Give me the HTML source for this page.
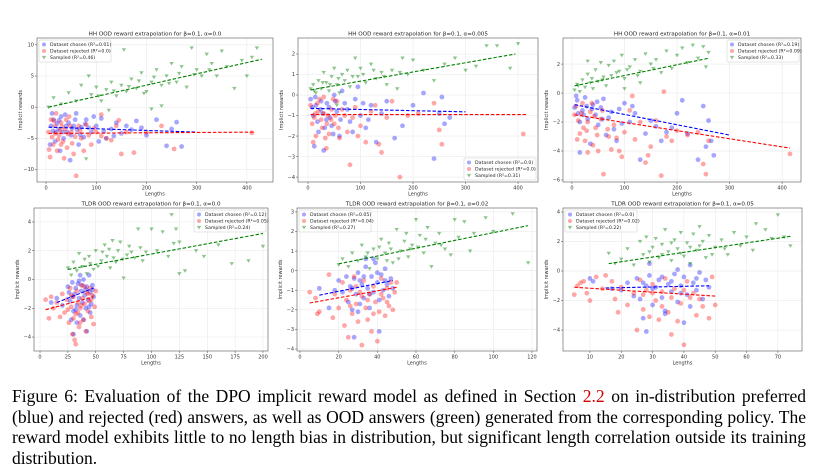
<!DOCTYPE html>
<html><head><meta charset="utf-8">
<style>
html,body{margin:0;padding:0;background:#fff;width:819px;height:476px;overflow:hidden}
#fig{position:absolute;left:0;top:0}
#caption{position:absolute;left:12px;top:386px;width:794px;font-family:"Liberation Serif",serif;font-size:17.5px;line-height:20.5px;color:#000;margin:0}
#caption .ln{display:block;text-align:justify;text-align-last:justify;white-space:nowrap}
#caption .last{text-align-last:left}
#caption .ref{color:#c00}
</style></head>
<body>
<svg id="fig" width="819" height="380" xmlns="http://www.w3.org/2000/svg" font-family="DejaVu Sans, Liberation Sans, sans-serif"></svg>
<p id="caption"><span class="ln">Figure 6: Evaluation of the DPO implicit reward model as defined in Section <span class="ref">2.2</span> on in-distribution preferred</span><span class="ln">(blue) and rejected (red) answers, as well as OOD answers (green) generated from the corresponding policy. The</span><span class="ln">reward model exhibits little to no length bias in distribution, but significant length correlation outside its training</span><span class="ln last">distribution.</span></p>
<script>
// ---- data (hand-estimated from reference) ----
const titles = ["HH OOD reward extrapolation for β=0.1, α=0.0","HH OOD reward extrapolation for β=0.1, α=0.005","HH OOD reward extrapolation for β=0.1, α=0.01","TLDR OOD reward extrapolation for β=0.1, α=0.0","TLDR OOD reward extrapolation for β=0.1, α=0.02","TLDR OOD reward extrapolation for β=0.1, α=0.05"];
const legendChosen = ["Dataset chosen (R²=0.01)","Dataset chosen (R²=0.0)","Dataset chosen (R²=0.19)","Dataset chosen (R²=0.12)","Dataset chosen (R²=0.05)","Dataset chosen (R²=0.0)"];
const legendRejected = ["Dataset rejected (R²=0.0)","Dataset rejected (R²=0.0)","Dataset rejected (R²=0.09)","Dataset rejected (R²=0.05)","Dataset rejected (R²=0.04)","Dataset rejected (R²=0.02)"];
const legendSampled = ["Sampled (R²=0.46)","Sampled (R²=0.31)","Sampled (R²=0.33)","Sampled (R²=0.24)","Sampled (R²=0.27)","Sampled (R²=0.22)"];
const xTicks = [[0,100,200,300,400],[0,100,200,300,400],[0,100,200,300,400],[0,25,50,75,100,125,150,175,200],[0,20,40,60,80,100,120],[10,20,30,40,50,60,70]];
const yTicks = [[-10,-5,0,5,10],[-4,-3,-2,-1,0,1,2],[-6,-4,-2,0,2],[-4,-2,0,2,4],[-4,-3,-2,-1,0,1,2,3],[-4,-2,0,2,4]];
const chosen = [
[10,-3,15,-2,20,-4,25,-3.5,30,-1.5,35,-5,40,-3,45,-2.5,50,-4.5,55,-3,60,-1,65,-6,70,-3.2,80,-2,90,-4,100,-3,110,-1.8,120,-5,130,-3.5,140,-2.5,150,-4.2,160,-3,180,-2.2,200,-4.5,220,-2,240,-6.2,250,-3.5,260,-2.4,270,-6.3,8,-6,12,-1,18,-5.5,28,-7,42,-4,58,-2,75,-4.8,95,-1.5,48,-8.5,105,-5.5,22,-2.6,33,-4,62,-3.6,85,-3.3,14,-3.8,26,-2.1,38,-1.2,52,-3.4,68,-4.4,78,-2.7,115,-3.9,135,-4.6,170,-3.6,190,-3.3],
[5,-0.2,10,-1,15,-0.5,20,-1.8,25,-0.3,30,-2.7,35,-1.2,40,-0.6,45,-1.5,50,0,55,-0.8,60,-2,70,-0.4,80,-1.3,90,-0.2,100,-1,110,-1.6,120,-0.5,130,-2.3,140,-0.9,150,-0.3,165,-2.1,180,-1.5,200,-0.5,220,0.1,240,-3.1,250,-0.9,255,-0.1,260,-1.4,270,-1.1,12,-2.5,28,-0.9,48,-1.9,65,0.2,95,0.4,18,-1.3,8,-0.6,24,-0.7,36,-0.4,14,-0.1,32,-1.6,42,-1.1,52,-0.3,62,-1.2,75,-0.7,85,-1.8,105,-0.4,115,-1.2],
[5,-1,10,-0.5,15,-2,20,-1.2,25,-0.3,30,-1.8,35,-3.5,40,-0.8,45,-1.5,50,-2.2,55,-1,60,-0.4,70,-1.7,80,-2.5,90,-1.1,100,-0.7,110,-2,120,-1.4,130,-4.6,140,-2.8,150,-1.9,160,-2.3,170,-3.3,180,-2.7,190,-2.4,200,-1.4,210,-0.5,220,-2.8,240,-4.6,250,-0.9,255,-3.7,260,-1.9,265,-3.3,270,-4.3,15,-4.1,65,-2.9,85,-3.3,8,-0.2,22,-1.5,38,-1.1,12,-1.4,28,-0.9,48,-0.6,58,-1.8,75,-1.3,95,-2.1,115,-0.9],
[25,-0.5,27,-1.5,29,-0.2,30,-2.2,31,-1,32,-0.6,33,-1.8,34,-0.3,35,-1.3,36,-2.5,37,-0.8,38,-1.6,39,0,40,-1.1,41,-2,42,-0.5,43,-1.4,44,0.3,45,-0.9,46,-1.7,47,-0.4,48,-1.2,30,-3.8,42,-3.6,10,-1.6,15,-1.3,20,-1.8,28,-2.8,36,0.3,45,-2.3,33,-3,39,-2.8,26,-0.9,47,-0.7,29,-1.2,35,-0.1,41,-0.7,44,-1.9,38,-0.4,32,-2.1],
[10,-0.9,15,-1.9,20,-0.5,22,-1.1,24,-0.3,25,-1.6,26,-0.8,27,-2,28,-0.4,29,-1.2,30,-0.1,31,-1.7,32,-0.7,33,-1.4,34,0.2,35,-0.9,36,-1.9,37,-0.3,38,-1.1,39,0.4,40,-0.6,41,-1.5,42,-0.2,43,-1,44,0.1,45,-0.7,46,-1.3,47,-0.4,48,-0.9,41,-3.1,28,-3.4,18,-1,34,0.6,38,0.6,30,-2.1,27,-0.9,33,-0.3,36,-1.2,40,-0.1,44,-0.5,31,-0.5],
[10,-0.5,11,-0.7,17,-1.2,20,-1.3,22,-0.8,24,-1.7,25,-0.5,26,-1.9,27,-3.2,28,-4.1,28,-1,29,-0.3,30,-2.3,31,-1.1,32,-0.6,33,-1.8,34,-2.7,35,-0.9,36,-1.4,37,-0.2,38,-2.1,39,-1,40,-3.5,40,-0.4,41,-1.6,42,-2.4,43,-0.8,44,-1.3,45,-0.1,46,-1.9,47,-0.6,48,-1.1,38,0.1,42,0.4,29,0.5,34,-2.9,30,-1.2,33,-0.4,36,-0.7,39,-1.5,44,-0.5,27,-0.8]
];
const rejected = [
[5,-4,8,-8,10,-2,14,-6,18,-3,22,-7,26,-4.5,30,-2.5,34,-5.5,38,-3.5,42,-6.5,46,-1.5,50,-4,55,-7.5,60,-11,65,-3,70,-5,80,-2.8,90,-6,100,-4,110,-1.2,120,-5,140,-3,150,-7.5,160,-4,175,-7.3,200,-4,230,-3,255,-6.7,410,-4.1,12,-4.8,20,-1,36,-8.2,52,-5.8,75,-7,85,-4.5,130,-5.3,145,-2.1,28,-3.7,44,-4.3,16,-2.2,24,-5.2,32,-3.1,6,-6.8,18,-4.2,30,-6,40,-2,48,-3,58,-4.7,68,-3.8,95,-3.4,110,-4.6],
[5,-0.5,10,-2.3,15,-2,20,-0.8,25,-1.2,30,-0.1,35,-2.6,40,-1.9,45,-0.7,50,-1.4,55,-0.3,60,-2.1,70,-1,80,-3.4,90,-0.6,100,-1.5,110,-2.3,120,-0.8,135,-2.4,140,-2.8,150,-1.1,160,-0.3,175,-4,190,-1,210,-0.9,240,-0.4,250,-1.7,255,-2.4,410,-1.9,8,-1.4,22,-0.2,38,-1,58,-1.6,75,-1.8,128,-0.5,33,-2.1,14,-0.9,27,-1.6,44,-1.2,12,-1.1,18,-0.4,30,-0.9,36,-1.4,48,-0.2,52,-1,65,-0.7,85,-1.1,95,-2],
[5,-1.5,10,-3.2,15,-2.8,20,-0.7,25,-3.3,30,-2,35,-1.3,40,-3.6,45,-2.4,50,-4,55,-1.8,60,-5.6,70,-3,80,-2.2,90,-4,100,-2.7,110,-1.2,120,-3.2,130,-2,140,-4.8,150,-3.7,160,-1.9,170,-5.7,180,-3,190,-3.3,200,-2.6,220,-2.9,240,-2.7,250,-4.9,255,-5.6,260,-3.3,415,-4.2,30,-4.1,75,-3.9,95,-4.4,145,-4.3,175,0.1,115,-0.2,12,-1.9,22,-2.4,42,-1.6,8,-0.9,18,-1.4,28,-2.6,38,-0.7,48,-2.9,58,-1.2,68,-2.5,85,-3.1],
[5,-1.4,8,-2.7,10,-1.2,12,-2,15,-1.6,18,-2.6,20,-1,22,-2.3,24,-1.4,26,-3,27,-0.6,28,-1.9,29,-3.8,30,-1.2,31,-4.2,32,-2.4,33,-0.8,34,-1.6,35,-3.3,36,-2,37,-0.4,38,-1.3,39,-2.8,40,-1.7,41,-3.6,42,-0.9,43,-2.2,44,-1.5,45,-0.6,46,-2.6,47,-1.1,48,-3.1,49,-1.9,50,-0.8,32,-4.5,25,-2.1,28,-1.1,30,-2.7,34,-2.3,37,-1.8,40,-0.5,43,-1,46,-1.4,36,-3],
[5,-1.1,8,-1.4,9,-2.2,10,-2.1,15,-0.2,17,-2.4,18,-1.2,20,-1.9,22,-0.6,23,-2.8,24,-1.5,25,-3.4,26,-1,27,-2.2,28,-0.3,29,-1.7,30,-2.6,31,-1.1,32,-3.8,33,-0.5,34,-1.9,35,-2.5,36,-1.2,37,-3.1,38,-0.8,39,-1.6,40,-3.6,41,-2.1,42,-0.4,43,-1.4,44,-2.3,45,-0.9,46,-1.8,47,-0.6,48,-2,49,-1.1,50,-0.6,32,-1.3,26,-1.8,29,-0.8,35,-1.5,38,-2.2,42,-1.2,45,-1.6],
[5,-1.6,6,-1,7,-0.8,8,-0.7,9,-1.5,10,-2,12,-0.4,14,-1.2,15,-0.3,17,-0.7,18,-1.9,19,-2.8,20,-1.1,22,-2.3,24,-1.5,25,-4,26,-0.6,27,-2.6,28,-1.3,29,-3.1,30,-0.9,31,-2,32,-3.3,33,-1.4,34,-0.5,35,-2.8,36,-4.3,37,-1.2,38,-3.4,39,-2.2,40,-5,41,-0.7,42,-1.8,44,-3,46,-2.4,48,-3.2,50,-2.3,49,-0.4,27,-1.6,30,-1.5,33,-2.4,36,-1.8,40,-1.3,43,-1.5,45,-1.9]
];
const sampled = [
[5,0,15,1.5,30,0.5,45,2.3,60,1,70,3.5,80,-8.3,85,5,90,2,100,3.2,110,1,120,2.8,130,4,140,1.8,150,3.5,160,2.5,170,4.5,180,3,190,5.5,200,2.5,210,4,220,6,230,3.5,240,5,250,7,260,4,270,6.5,280,3.2,290,9.5,300,6,310,5,320,8.5,330,7,340,5,350,9,360,6.5,375,3,390,7.5,400,5,410,8,420,9.5,155,9.2,125,-0.5,210,-0.3,230,0.2,105,1.8,135,2.6,165,3.3,185,4.2,195,2.2,215,4.8,245,3.8,265,5.4,295,5.2,325,6],
[5,0.3,10,0.5,15,0.1,20,0.7,25,0.3,30,1.1,35,0.6,40,0.2,45,0.9,50,1.3,55,0.5,60,0.1,65,1,70,0.7,75,1.2,80,0.4,90,1.8,95,0.9,100,1.3,110,0.6,120,1.5,130,0.8,140,1.1,150,0.5,160,1.2,170,0.3,180,1.8,190,1,200,1.7,220,1.2,240,0.7,260,1.5,280,1.8,300,1.2,320,1.4,340,2.4,360,2.4,385,1.3,400,2.5,55,-0.5,12,0.2,28,0.6,42,0.5,58,0.8,85,0.9,105,1.0,125,1.2,145,0.9,175,1.1],
[5,0.2,10,0.6,15,0.1,20,0.9,25,0.4,30,1.3,35,0.7,40,0.3,45,1.6,50,0.8,55,2.1,60,1.1,65,0.5,70,1.9,75,1.2,80,2.2,90,1.5,95,2.6,100,1,110,1.8,120,2.3,130,1.5,140,2.7,150,2,160,2.3,170,1.4,180,2.9,190,1.7,200,2.6,210,3.1,220,2.1,230,3.3,240,2.4,250,3.2,255,1.8,260,2.8,100,0.3,130,0.7,30,2.2,12,0.5,38,1.0,58,0.9,85,1.4,105,1.6,125,1.2,155,1.7],
[25,0.8,28,0.3,30,1.2,33,0.6,35,1.8,38,0.9,40,1.4,42,0.4,45,1.1,48,0.7,50,2,55,1.3,58,2.4,60,1.6,63,0.8,65,2.7,68,1.2,70,2,72,2.6,75,0.1,78,1.7,80,2.3,85,1.5,88,3.5,90,2.2,95,1.9,100,3.5,105,2,110,3.3,115,1.6,118,4.5,120,2.5,122,3.5,125,2.6,130,0.6,140,2,147,1.6,160,2.4,172,1.1,187,1.3,200,2.3,125,0.4,44,1.6,52,0.9,56,1.9,62,2.1,66,1.5,74,1.4,82,1.9,92,1.3],
[20,0.3,22,0.6,25,0.2,27,0.9,30,0.5,32,1.3,34,0.7,36,0.1,38,1.1,40,0.6,42,1.6,44,0.9,46,1.4,48,0.4,50,2.1,52,1,54,1.5,56,0.7,58,1.3,60,2.6,62,1.8,64,0.9,66,2.2,68,0.2,70,1.4,72,1.9,75,1.1,78,0.8,80,2.6,82,1.7,85,2.5,88,1,90,1.9,96,2.7,100,2,110,2.9,118,0.4,55,1.9,45,0.5,35,0.9,41,1.2,47,1.1,51,0.6,57,1.1,61,1.2,65,1.6,73,1.3],
[16,1.2,18,0.5,20,0.8,22,1.5,24,0.4,26,2,27,1.1,28,2.3,29,0.6,30,1.6,31,2.2,32,0.9,33,1.8,34,2.8,35,1.3,36,0.7,37,2.1,38,1.5,39,2.6,40,1,41,1.9,42,0.5,43,2.5,44,1.4,45,3,46,2,47,0.9,48,2.4,50,1.6,52,2.1,54,1.1,56,2.6,58,1.7,60,2.3,62,1.4,63,3.2,66,2.8,68,2.2,70,3.8,72,2.3,74,1.7,29,1.3,33,1.1,36,1.9,39,1.2,42,1.6,45,1.7,49,1.1,53,1.5]
];
const fitChosen = [[5,-3.2,300,-4],[5,-0.65,300,-0.82],[5,-0.8,300,-2.9],[15,-1.6,48,-0.6],[10,-1.25,48,-0.5],[15,-1.15,48,-1.0]];
const fitRejected = [[5,-4.2,415,-4],[5,-0.95,415,-0.95],[5,-1.5,415,-3.8],[5,-2.1,48,-1.2],[5,-1.65,50,-0.85],[5,-1.1,50,-1.7]];
const fitSampled = [[5,0,430,7.7],[5,0.25,395,2],[5,0.5,260,2.4],[25,0.7,200,3.2],[20,0.35,118,2.3],[16,0.5,74,2.35]];

// ---- layout (pixel geometry, not data) ----
const panels = [
 {L:37,R:273,T:38,B:182,xmin:-18,xmax:452,ymin:-12,ymax:11.1,leg:"ul"},
 {L:298,R:538,T:38,B:182,xmin:-19,xmax:438,ymin:-4.24,ymax:2.78,leg:"lr"},
 {L:563,R:801,T:38,B:182,xmin:-17,xmax:436,ymin:-6.14,ymax:3.8,leg:"ur"},
 {L:34,R:268,T:208,B:351,xmin:-5.4,xmax:204.5,ymin:-4.97,ymax:4.97,leg:"ur"},
 {L:297,R:537,T:208,B:351,xmin:-1.55,xmax:122.6,ymin:-4.1,ymax:3.2,leg:"ul"},
 {L:563,R:802,T:208,B:351,xmin:1.4,xmax:77.7,ymin:-5.42,ymax:4.27,leg:"ul"}
];
const NS="http://www.w3.org/2000/svg";
const svg=document.getElementById('fig');
function mk(tag,attrs,parent){const e=document.createElementNS(NS,tag);for(const k in attrs)e.setAttribute(k,attrs[k]);parent.appendChild(e);return e;}
function tri(x,y){return `${x-2.2},${y-1.6} ${x+2.2},${y-1.6} ${x},${y+2}`;}
panels.forEach((p,i)=>{
  const g=mk('g',{},svg);
  
  
  const sx=v=>p.L+(v-p.xmin)/(p.xmax-p.xmin)*(p.R-p.L);
  const sy=v=>p.B-(v-p.ymin)/(p.ymax-p.ymin)*(p.B-p.T);
  xTicks[i].forEach(t=>{const x=sx(t);
    mk('line',{x1:x,x2:x,y1:p.T,y2:p.B,stroke:'#e6e6e6','stroke-width':0.5},g);
    mk('line',{x1:x,x2:x,y1:p.B,y2:p.B+2,stroke:'#444','stroke-width':0.5},g);
    const tx=mk('text',{x:x,y:p.B+7.5,'font-size':5,'text-anchor':'middle',fill:'#333'},g);tx.textContent=t;
    
    });
  yTicks[i].forEach(t=>{const y=sy(t);
    mk('line',{x1:p.L,x2:p.R,y1:y,y2:y,stroke:'#e6e6e6','stroke-width':0.5},g);
    mk('line',{x1:p.L-2,x2:p.L,y1:y,y2:y,stroke:'#444','stroke-width':0.5},g);
    const tx=mk('text',{x:p.L-3,y:y+1.7,'font-size':5,'text-anchor':'end',fill:'#333'},g);tx.textContent=(t<0?'−'+(-t):t);
    
    });
  const ser=[[chosen[i],'#0000ff','c'],[rejected[i],'#ff0000','c'],[sampled[i],'#008000','t']];
  ser.forEach(([arr,col,m],si)=>{
    for(let k=0;k<arr.length;k+=2){const x=sx(arr[k]),y=sy(arr[k+1]);
      let e;
      if(m==='c'){e=mk('circle',{cx:x,cy:y,r:2.4,fill:col,'fill-opacity':0.35},g);}
      else{e=mk('polygon',{points:tri(x,y),fill:col,'fill-opacity':0.45},g);}
      
      }
  });
  [[fitChosen[i],'#0000ff'],[fitRejected[i],'#ff0000'],[fitSampled[i],'#008000']].forEach(([f,col],si)=>{
    const l=mk('line',{x1:sx(f[0]),y1:sy(f[1]),x2:sx(f[2]),y2:sy(f[3]),stroke:col,'stroke-width':1.1,'stroke-dasharray':'3.5,1.8'},g);
    
    });
  const fr=mk('rect',{x:p.L,y:p.T,width:p.R-p.L,height:p.B-p.T,fill:'none',stroke:'#555','stroke-width':0.6},g);
  
  
  const ti=mk('text',{x:(p.L+p.R)/2,y:p.T-2.5,'font-size':5.6,'text-anchor':'middle',fill:'#222'},g);ti.textContent=titles[i];
  
  
  const xl=mk('text',{x:(p.L+p.R)/2,y:p.B+13.5,'font-size':5,'text-anchor':'middle',fill:'#333'},g);xl.textContent='Lengths';
  
  
  const yx=p.L-15,yy=(p.T+p.B)/2;
  const yl=mk('text',{x:yx,y:yy,'font-size':5,'text-anchor':'middle',fill:'#333',transform:`rotate(-90 ${yx} ${yy})`},g);yl.textContent='Implicit rewards';
  
  
  const w=72,h=22;
  const lx=p.leg[1]==='l'?p.L+2:p.R-w-2, ly=p.leg[0]==='u'?p.T+2:p.B-h-2;
  const lg=mk('g',{},g);
  
  
  mk('rect',{x:lx,y:ly,width:w,height:h,fill:'#fff','fill-opacity':0.85,stroke:'#ccc','stroke-width':0.5,rx:1},lg);
  [[legendChosen[i],'#0000ff','c'],[legendRejected[i],'#ff0000','c'],[legendSampled[i],'#008000','t']].forEach(([txt,col,m],k)=>{
    const cy=ly+4.5+k*6.5;
    if(m==='c')mk('circle',{cx:lx+5,cy:cy,r:2,fill:col,'fill-opacity':0.35},lg);
    else mk('polygon',{points:tri(lx+5,cy),fill:col,'fill-opacity':0.45},lg);
    const t=mk('text',{x:lx+11,y:cy+1.7,'font-size':4.7,fill:'#222'},lg);t.textContent=txt;
    
    
  });
});
</script>
</body></html>
